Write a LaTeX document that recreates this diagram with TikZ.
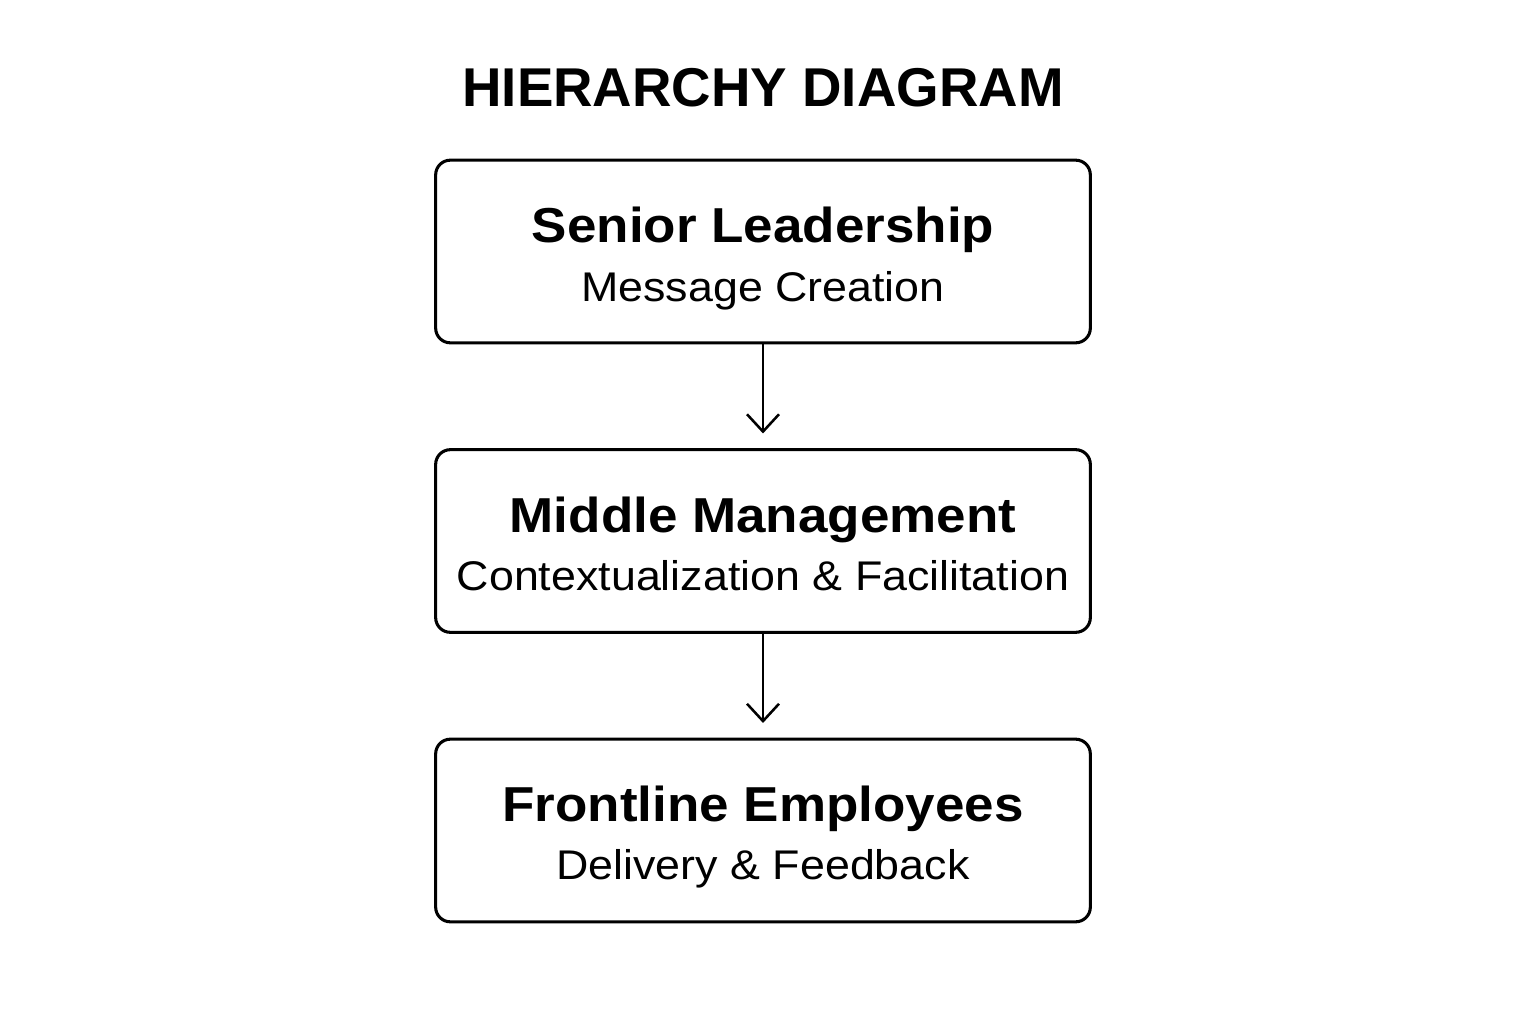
\documentclass[tikz,border=0pt]{standalone}
\usepackage{fontspec}
\setmainfont{Liberation Sans}
\newfontfamily\widefont[FakeStretch=1.08]{Liberation Sans}
\usetikzlibrary{arrows.meta}

\tikzset{every picture/.style={line width=0.75pt}}
\tikzset{
  levelbox/.style={draw, line width=2.3pt, rounded corners=11pt, minimum width=491pt, minimum height=137pt, inner sep=0pt},
  headtext/.style={anchor=base, inner sep=0pt, font=\widefont\bfseries\fontsize{36.8}{42}\selectfont},
  subtext/.style={anchor=base, inner sep=0pt, font=\widefont\fontsize{31.1}{36}\selectfont},
  flow/.style={line width=1.9pt, -{Straight Barb[length=13pt,width=24pt,line width=1.9pt]}, shorten >=11pt}
}

\begin{document}
\begin{tikzpicture}[x=0.75pt,y=0.75pt,yscale=-1,xscale=1]
\useasboundingbox (0,0) rectangle (1536,1024);

% Text Node
\node [anchor=base, inner sep=0pt, font=\bfseries\fontsize{41}{48}\selectfont] (title) at (763,107) {HIERARCHY DIAGRAM};

% Box Node
\node [levelbox] (senior) at (763,251.5) {};
\node [headtext] (seniorhead) at (763,242) {Senior Leadership};
\node [subtext] (seniorsub) at (763,301) {Message Creation};

% Box Node
\node [levelbox] (middle) at (763,541) {};
\node [headtext] (middlehead) at (763,532) {Middle Management};
\node [subtext] (middlesub) at (763,590) {Contextualization \& Facilitation};

% Box Node
\node [levelbox] (front) at (763,830.5) {};
\node [headtext] (fronthead) at (763,821) {Frontline Employees};
\node [subtext] (frontsub) at (763,879) {Delivery \& Feedback};

% Connection
\draw [flow] (senior.south) -- (middle.north);
% Connection
\draw [flow] (middle.south) -- (front.north);

\end{tikzpicture}
\end{document}
